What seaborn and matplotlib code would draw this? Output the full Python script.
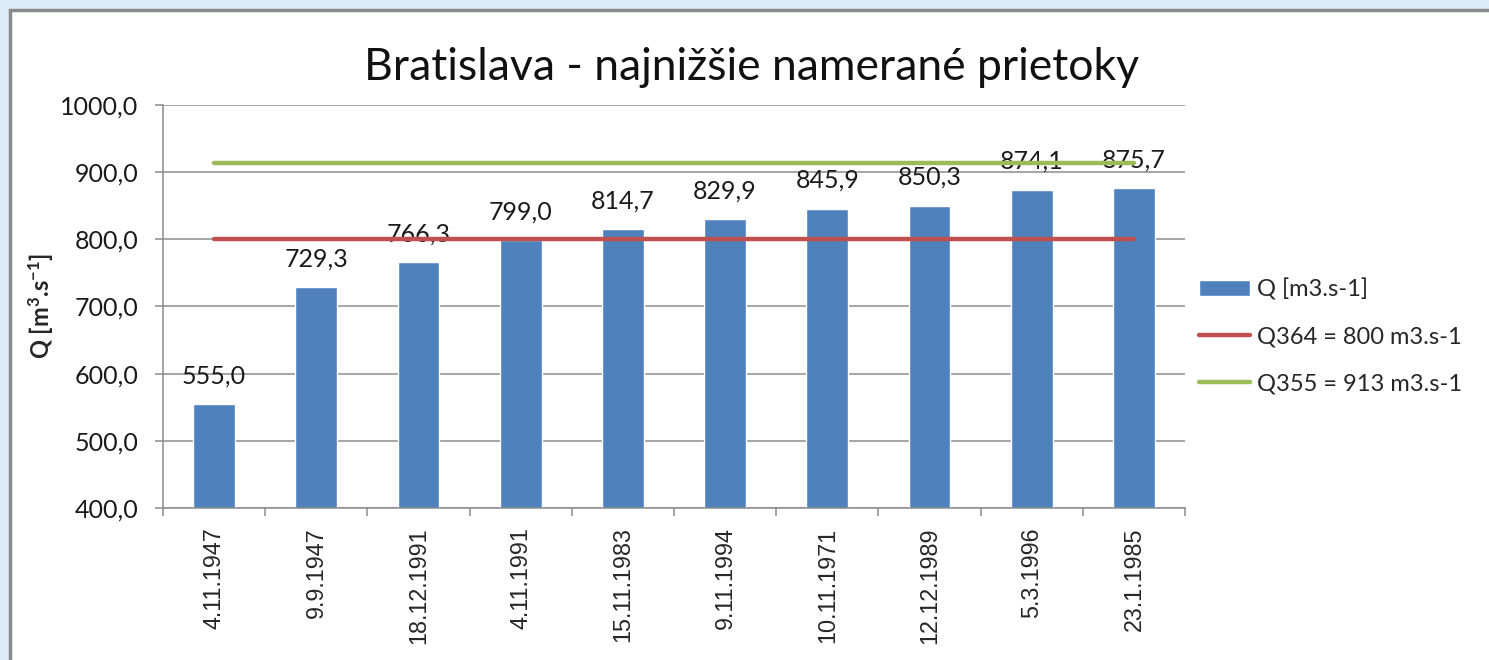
import numpy as np
import pandas as pd
import matplotlib
matplotlib.use("Agg")
import matplotlib.pyplot as plt
from matplotlib.patches import Rectangle
import seaborn as sns

# data
dates = ["4.11.1947", "9.9.1947", "18.12.1991", "4.11.1991", "15.11.1983",
         "9.11.1994", "10.11.1971", "12.12.1989", "5.3.1996", "23.1.1985"]
q_values = [555.0, 729.3, 766.3, 799.0, 814.7, 829.9, 845.9, 850.3, 874.1, 875.7]
q364 = 800
q355 = 913
y_ticks = [400, 500, 600, 700, 800, 900, 1000]

bar_col = "#4F81BD"
red_col = "#C0504D"
green_col = "#9BBB59"
grid_col = "#8C8C8C"

sns.set_style("white")
plt.rcParams["font.family"] = ["Lato", "DejaVu Sans"]
plt.rcParams["mathtext.fontset"] = "custom"
plt.rcParams["mathtext.rm"] = "Lato"
plt.rcParams["mathtext.bf"] = "Lato:bold"
plt.rcParams["mathtext.default"] = "bf"

df = pd.DataFrame({"datum": dates, "Q": q_values})

fig = plt.figure(figsize=(14.89, 6.6), dpi=100)
fig.patch.set_facecolor("#DCEBF8")
# white chart frame like the screenshot
fig.patches.append(Rectangle((10 / 1489, -0.01), 1, 1.01 - 10 / 660, transform=fig.transFigure,
                             facecolor="white", edgecolor="#8A8A8A", linewidth=2.5, zorder=-5))

ax = fig.add_axes([163 / 1489, 1 - 508 / 660, (1185 - 163) / 1489, (508 - 105) / 660])
ax.set_facecolor("none")

sns.barplot(data=df, x="datum", y="Q", color=bar_col, width=0.41, saturation=1,
            ax=ax, label="Q [m3.s-1]", zorder=2)
if ax.get_legend() is not None:
    ax.get_legend().remove()

labels = [f"{v:.1f}".replace(".", ",") for v in q_values]
ax.bar_label(ax.containers[0], labels=labels, padding=12, fontsize=18, color="#1a1a1a", zorder=3)

n = len(dates)
ax.plot([0, n - 1], [q364, q364], color=red_col, lw=3.2, solid_capstyle="round",
        label="Q364 = 800 m3.s-1", zorder=4)
ax.plot([0, n - 1], [q355, q355], color=green_col, lw=3.2, solid_capstyle="round",
        label="Q355 = 913 m3.s-1", zorder=4)

ax.set_xlim(-0.5, n - 0.5)
ax.set_ylim(400, 1000)
ax.set_yticks(y_ticks)
ax.set_yticklabels([f"{t},0" for t in y_ticks], fontsize=18, color="#1a1a1a")
ax.yaxis.grid(True, color=grid_col, lw=1.1)
ax.set_axisbelow(True)

ax.set_xticks(range(n))
ax.set_xticklabels(dates, rotation=90, fontsize=16.8, family=["Liberation Sans", "DejaVu Sans"],
                   va="top", ha="center")
ax.set_xticks(np.arange(-0.5, n, 1.0), minor=True)
ax.tick_params(axis="x", which="major", length=0, pad=14)
ax.tick_params(axis="x", which="minor", bottom=True, direction="out", length=6,
               color=grid_col, width=1.1)
ax.tick_params(axis="y", which="major", left=True, direction="out", length=6,
               color=grid_col, width=1.1, pad=12)

for side in ["top", "right"]:
    ax.spines[side].set_visible(False)
for side in ["left", "bottom"]:
    ax.spines[side].set_color(grid_col)
    ax.spines[side].set_linewidth(1.1)

ax.set_xlabel("")
ax.set_ylabel(r"Q [m$^{3}$.s$^{-1}$]", fontsize=17, fontweight="bold", labelpad=3)

fig.text(0.505, 1 - 80 / 660, "Bratislava - najnižšie namerané prietoky",
         fontsize=32, ha="center", va="baseline", color="#111111")

handles, leg_labels = ax.get_legend_handles_labels()
order = [leg_labels.index(l) for l in ["Q [m3.s-1]", "Q364 = 800 m3.s-1", "Q355 = 913 m3.s-1"]]
fig.legend([handles[i] for i in order], [leg_labels[i] for i in order], loc="center left",
           bbox_to_anchor=(1178 / 1489, 1 - 336 / 660),
           frameon=False, fontsize=17, handlelength=2.15, handleheight=0.7,
           handletextpad=0.3, labelspacing=1.1)

fig.savefig("out.png", dpi=100, facecolor=fig.get_facecolor())
